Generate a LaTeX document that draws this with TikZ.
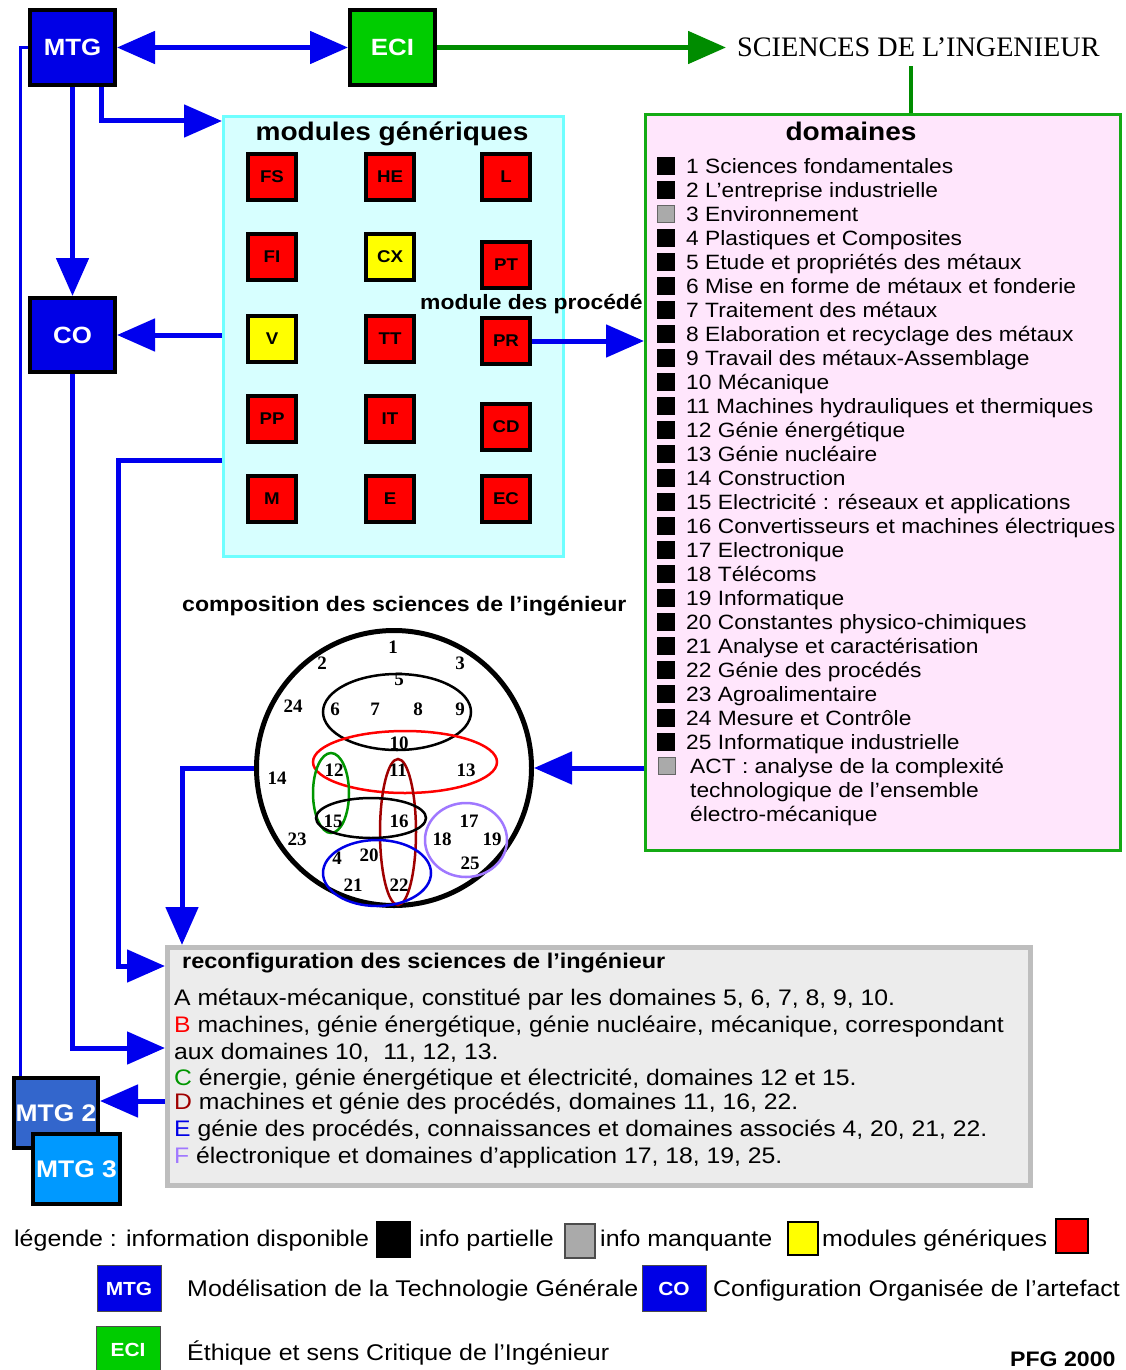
\documentclass[tikz,border=0pt]{standalone}
\usepackage{fontspec}
\setmainfont{Liberation Sans}[FakeStretch=1.1]
\newfontfamily\seriffont{Liberation Serif}
\usetikzlibrary{positioning,arrows.meta,calc}
\definecolor{mtgblue}{RGB}{0,0,230}
\definecolor{linkblue}{RGB}{0,0,238}
\definecolor{ecigreen}{RGB}{0,204,0}
\definecolor{scigreen}{RGB}{0,140,0}
\definecolor{domgreen}{RGB}{20,170,20}
\definecolor{dompink}{RGB}{255,230,252}
\definecolor{modcyan}{RGB}{215,255,255}
\definecolor{modcyandraw}{RGB}{110,255,255}
\definecolor{modred}{RGB}{255,0,0}
\definecolor{modyellow}{RGB}{255,255,0}
\definecolor{infogray}{RGB}{170,170,170}
\definecolor{reconfbg}{RGB}{236,236,236}
\definecolor{reconfdraw}{RGB}{190,190,190}
\definecolor{mtgtwoblue}{RGB}{51,102,204}
\definecolor{mtgthreeblue}{RGB}{0,153,255}
\definecolor{darkred}{RGB}{160,0,0}
\definecolor{lightpurple}{RGB}{160,120,255}
\definecolor{cgreen}{RGB}{0,150,0}

\begin{document}
\begin{tikzpicture}[x=1pt,y=-1pt,>={Triangle[length=38pt,width=32pt]},
    mainbox/.style={draw=black,line width=4pt,minimum width=85pt,minimum height=75pt,inner sep=0pt,text=white,font=\fontsize{23.5}{26}\selectfont\bfseries},
    modbox/.style={draw=black,line width=3.5pt,minimum width=48pt,minimum height=46pt,inner sep=0pt,font=\fontsize{17}{19}\selectfont\bfseries},
    domsq/.style={draw=black,fill=black,minimum size=17pt,inner sep=0pt},
    domtext/.style={anchor=base west,inner sep=0pt,font=\fontsize{20.7}{24}\selectfont},
    boxtitle/.style={anchor=base,inner sep=0pt,font=\fontsize{25.5}{28}\selectfont\bfseries},
    subtitle/.style={anchor=base west,inner sep=0pt,font=\fontsize{21}{24}\selectfont\bfseries},
    numlbl/.style={inner sep=0pt,font=\seriffont\bfseries\fontsize{19}{20}\selectfont},
    ring/.style={line width=2.5pt},
    bodytext/.style={anchor=base west,inner sep=0pt,font=\fontsize{22.5}{26}\selectfont},
    legtext/.style={anchor=base west,inner sep=0pt,font=\fontsize{22.7}{26}\selectfont},
    legsq/.style={draw=black,line width=1.5pt,inner sep=0pt},
    legbox/.style={draw=black!70,line width=1pt,inner sep=0pt,minimum width=64pt,minimum height=46pt,text=white,font=\fontsize{19}{20}\selectfont\bfseries},
    bigarrow/.style={linkblue,line width=5pt,->},
    thinlink/.style={linkblue,line width=3pt},
    greenarrow/.style={scigreen,line width=5pt,->},
    greenline/.style={scigreen,line width=4pt}]
  \useasboundingbox (0,0) rectangle (1125,1370);
  \fill[white] (0,0) rectangle (1125,1370);

  % panels
  \node[draw=modcyandraw,fill=modcyan,line width=3pt,minimum width=340pt,minimum height=440pt,inner sep=0pt] (modules) at (393.5,336.5) {};
  \node[draw=domgreen,fill=dompink,line width=3pt,minimum width=475pt,minimum height=736pt,inner sep=0pt] (dom) at (883,482.5) {};
  \node[draw=reconfdraw,fill=reconfbg,line width=5pt,minimum width=863pt,minimum height=238pt,inner sep=0pt] (reconf) at (599,1066.5) {};

  % main blocks
  \node[mainbox,fill=mtgblue] (mtg) at (72.5,47.5) {MTG};
  \node[mainbox,fill=ecigreen] (eci) at (392.5,47.5) {ECI};
  \node[mainbox,fill=mtgblue,minimum height=74pt] (co) at (72.5,335) {CO};
  \node[anchor=base west,inner sep=0pt,font=\seriffont\fontsize{28.2}{30}\selectfont] (sci) at (737,57) {SCIENCES DE L’INGENIEUR};

  % generic modules
  \node[boxtitle] (modtitle) at (392,141) {modules génériques};
  \foreach \lbl/\px/\py/\col in {FS/272/177/modred,HE/390/177/modred,L/506/177/modred,
      FI/272/257/modred,CX/390/257/modyellow,PT/506/265/modred,
      V/272/339/modyellow,TT/390/339/modred,PR/506/341/modred,
      PP/272/419/modred,IT/390/419/modred,CD/506/427/modred,
      M/272/499/modred,E/390/499/modred,EC/506/499/modred}
    \node[modbox,fill=\col] (mod\lbl) at (\px,\py) {\lbl};

  % domains list
  \node[boxtitle] (domtitle) at (851,141) {domaines};
  \foreach \i in {1,2,4,5,...,25}
    \node[domsq] (dsq\i) at (666,142+24*\i) {};
  \node[domsq,fill=infogray,draw=black!60] (dsq3) at (666,214) {};
  \node[domsq,fill=infogray,draw=black!60] (dsqact) at (667,766) {};
  \foreach \txt [count=\i] in {1 Sciences fondamentales,2 L’entreprise industrielle,3 Environnement,
      4 Plastiques et Composites,5 Etude et propriétés des métaux,6 Mise en forme de métaux et fonderie,
      7 Traitement des métaux,8 Elaboration et recyclage des métaux,9 Travail des métaux-Assemblage,
      10 Mécanique,11 Machines hydrauliques et thermiques,12 Génie énergétique,13 Génie nucléaire,
      14 Construction,15 Electricité : réseaux et applications,16 Convertisseurs et machines électriques,
      17 Electronique,18 Télécoms,19 Informatique,20 Constantes physico-chimiques,
      21 Analyse et caractérisation,22 Génie des procédés,23 Agroalimentaire,
      24 Mesure et Contrôle,25 Informatique industrielle}
    \node[domtext] (dtxt\i) at (686,149+24*\i) {\txt};
  \foreach \txt [count=\i] in {ACT : analyse de la complexité,technologique de l’ensemble,électro-mécanique}
    \node[domtext] (act\i) at (690,749+24*\i) {\txt};

  \node[subtitle,font=\fontsize{20.8}{24}\selectfont\bfseries] (proctitle) at (420,309.5) {module des procédé};

  % composition circle
  \node[subtitle] (comptitle) at (182,611.5) {composition des sciences de l’ingénieur};
  \node[draw=black,circle,line width=5pt,minimum size=275pt,inner sep=0pt] (circ) at (394,768) {};
  \draw[ring] (397,712) ellipse [x radius=74pt,y radius=38pt];
  \draw[ring,red] (405,762) ellipse [x radius=92pt,y radius=31pt];
  \draw[ring,cgreen] (331,793) ellipse [x radius=18pt,y radius=40pt];
  \draw[ring,darkred] (398,832) ellipse [x radius=18pt,y radius=73pt];
  \draw[ring] (371,818) ellipse [x radius=55pt,y radius=20pt];
  \draw[ring,mtgblue] (377,873) ellipse [x radius=54pt,y radius=33pt];
  \draw[ring,lightpurple] (466,840) ellipse [x radius=41pt,y radius=37pt];
  \foreach \lbl/\px/\py in {1/393/647,2/322/663,3/460/663,5/399/679,24/293/706,6/335/709,7/375/709,
      8/418/709,9/460/709,10/399/743,14/277/778,12/334/770,11/398/770,13/466/770,15/333/821,
      16/399/821,17/469/821,23/297/839,18/442/839,19/492/839,4/337/858,20/369/855,25/470/863,
      21/353/885,22/399/885}
    \node[numlbl] (num\lbl) at (\px,\py) {\lbl};

  % reconfiguration
  \node[subtitle,font=\fontsize{21.3}{24}\selectfont\bfseries] (rectitle) at (182,968.5) {reconfiguration des sciences de l’ingénieur};
  \foreach \y/\txt [count=\i] in {1005/{A métaux-mécanique, constitué par les domaines 5, 6, 7, 8, 9, 10.},
      1032/{\textcolor{red}{B} machines, génie énergétique, génie nucléaire, mécanique, correspondant},
      1059/{aux domaines 10,\ \ 11, 12, 13.},
      1085/{\textcolor{cgreen}{C} énergie, génie énergétique et électricité, domaines 12 et 15.},
      1109/{\textcolor{darkred}{D} machines et génie des procédés, domaines 11, 16, 22.},
      1136/{\textcolor{mtgblue}{E} génie des procédés, connaissances et domaines associés 4, 20, 21, 22.},
      1163/{\textcolor{lightpurple}{F} électronique et domaines d'application 17, 18, 19, 25.}}
    \node[bodytext] (rline\i) at (174,\y) {\txt};

  \node[mainbox,fill=mtgtwoblue,minimum width=84pt,minimum height=70pt,font=\fontsize{24}{26}\selectfont\bfseries] (mtgtwo) at (56,1113) {MTG 2};
  \node[mainbox,fill=mtgthreeblue,minimum width=87pt,minimum height=70pt,font=\fontsize{24}{26}\selectfont\bfseries] (mtgthree) at (76.5,1169) {MTG 3};

  % connectors
  \draw[bigarrow,<->] (mtg) -- (eci);
  \draw[greenarrow] (eci) -- ([xshift=-11pt]eci.east -| sci.west);
  \draw[greenline] ([xshift=-7pt,yshift=-9pt]sci.south) -- ([xshift=-7pt]sci.south |- dom.north);
  \draw[bigarrow] ([xshift=28.5pt]mtg.south) |- ([yshift=-6pt]modules.north west);
  \draw[bigarrow] (mtg) -- (co);
  \draw[bigarrow] (modules.west |- co.east) -- (co.east);
  \draw[bigarrow] (modPR) -- (modPR -| dom.west);
  \draw[bigarrow] ([yshift=-123.5pt]modules.west) -| (118,966) -- ([yshift=100.5pt]reconf.west);
  \draw[bigarrow] (co.south) |- ([yshift=18.5pt]reconf.west);
  \draw[thinlink] (mtg.west) -| ([xshift=-36pt]mtgtwo.north);
  \draw[bigarrow] (dom.west |- circ.east) -- (circ.east);
  \draw[bigarrow] (circ.west) -| ([xshift=17pt]reconf.north west);
  \coordinate (dtip) at ([yshift=12pt]mtgtwo.east);
  \draw[bigarrow] (dtip -| reconf.west) -- (dtip);

  % legend
  \node[legtext] (leg1) at (14,1246) {légende : information disponible};
  \node[legsq,fill=black,minimum width=33pt,minimum height=35pt] (legsqa) at (393.5,1239.5) {};
  \node[legtext] (leg2) at (419,1246) {info partielle};
  \node[legsq,fill=infogray,draw=black!70,minimum width=30pt,minimum height=34pt] (legsqb) at (580,1241) {};
  \node[legtext] (leg3) at (600,1246) {info manquante};
  \node[legsq,fill=modyellow,minimum width=30pt,minimum height=33pt] (legsqc) at (803,1238.5) {};
  \node[legtext] (leg4) at (822,1246) {modules génériques};
  \node[legsq,fill=modred,minimum width=32pt,minimum height=34pt] (legsqd) at (1072,1236) {};
  \node[legbox,fill=mtgblue] (legmtg) at (129,1288.5) {MTG};
  \node[legtext] (leg5) at (187,1296) {Modélisation de la Technologie Générale};
  \node[legbox,fill=mtgblue] (legco) at (674,1288.5) {CO};
  \node[legtext] (leg6) at (713,1296) {Configuration Organisée de l’artefact};
  \node[legbox,fill=ecigreen,minimum height=48pt] (legeci) at (128,1350) {ECI};
  \node[legtext] (leg7) at (187,1360) {Éthique et sens Critique de l’Ingénieur};
  \node[legtext,font=\fontsize{21}{24}\selectfont\bfseries] (pfg) at (1010,1366) {PFG 2000};
\end{tikzpicture}
\end{document}
